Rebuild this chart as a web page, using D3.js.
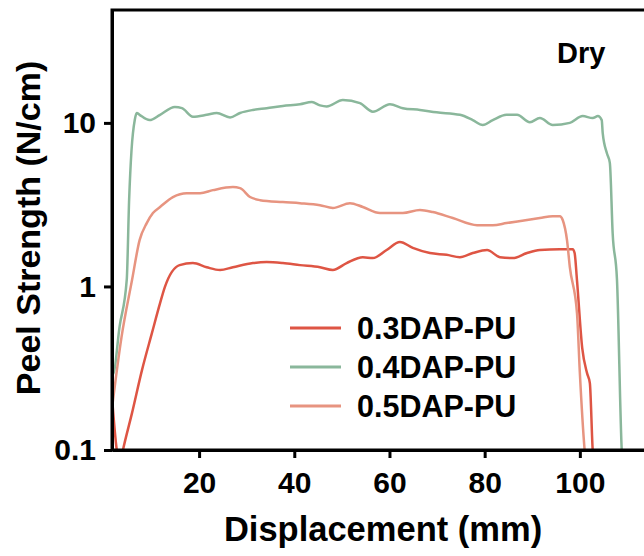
<!DOCTYPE html>
<html>
<head>
<meta charset="utf-8">
<script src="https://cdn.jsdelivr.net/npm/d3@7"></script>
<style>
  body { margin: 0; background: #fff; }
  text { font-family: "Liberation Sans", Arial, sans-serif; font-weight: bold; }
</style>
</head>
<body>
<div id="chart"></div>
<script>
var svgWidth = 644;
var svgHeight = 556;
var margin = { top: 10, left: 112 };
var width = 544;   // right edge of the frame falls outside the picture
var height = 440;

// Series names and colours
var seriesNames = ["0.3DAP-PU", "0.4DAP-PU", "0.5DAP-PU"];
var seriesColors = ["#de5544", "#8ab79b", "#e79480"];

// Displacement (mm) and peel strength (N/cm)
var dispA = [1.7, 2.7, 3.3, 4.0, 5.9, 8.0, 10.1, 11.8, 12.8, 15.9, 18.7, 21.6, 24.4, 27.1, 31.3, 34.2, 37.6, 41.2, 45.4, 48.1, 51.0, 54.4, 56.5, 59.4, 62.2, 64.9, 68.5, 72.0, 74.8, 77.5, 80.5, 83.2, 85.9, 88.9, 91.6, 95.8, 98.5, 98.9, 99.4, 100.5, 101.5, 102.1, 102.7, 103.0];
var peelA = [0.21, 0.1, 0.08, 0.1, 0.168, 0.308, 0.52, 0.79, 0.99, 1.35, 1.39, 1.31, 1.26, 1.31, 1.39, 1.41, 1.39, 1.35, 1.31, 1.26, 1.39, 1.51, 1.49, 1.67, 1.87, 1.72, 1.60, 1.56, 1.51, 1.60, 1.67, 1.51, 1.49, 1.60, 1.67, 1.69, 1.69, 1.60, 1.09, 0.42, 0.296, 0.257, 0.1, 0.08];

var dispB = [1.75, 1.9, 3.3, 4.8, 5.3, 5.8, 6.5, 6.9, 7.5, 9.6, 11.8, 14.9, 16.4, 18.7, 21.6, 23.7, 26.5, 28.6, 31.3, 34.2, 37.6, 41.2, 43.7, 45.4, 46.8, 50.2, 53.8, 56.5, 60.1, 62.8, 66.4, 69.9, 74.8, 77.5, 79.6, 81.7, 84.6, 86.8, 89.5, 91.6, 94.3, 97.9, 100.6, 102.7, 103.8, 104.6, 104.8, 105.7, 106.3, 106.9, 107.8, 108.8, 109.0];
var peelB = [0.34, 0.29, 0.57, 1.1, 3.4, 6.8, 10.5, 11.5, 11.2, 10.4, 11.2, 12.5, 12.3, 10.9, 11.2, 11.5, 10.8, 11.5, 12.0, 12.3, 12.7, 13.0, 13.4, 12.8, 12.6, 13.8, 13.2, 11.7, 13.0, 12.3, 12.0, 11.6, 11.2, 10.4, 9.7, 10.4, 11.2, 11.2, 10.1, 10.7, 9.7, 10.0, 11.0, 10.7, 11.0, 10.4, 8.7, 6.5, 5.7, 2.1, 1.1, 0.1, 0.08];

var dispC = [1.7, 3.7, 5.9, 7.5, 9.0, 10.3, 11.8, 14.5, 17.4, 20.2, 22.9, 27.1, 28.6, 30.7, 32.8, 37.6, 41.2, 45.4, 48.1, 51.7, 54.4, 58.0, 62.8, 66.4, 69.1, 73.3, 78.4, 81.7, 84.6, 88.9, 91.6, 94.3, 95.8, 96.4, 97.3, 97.9, 99.4, 100.0, 101.0, 101.3];
var peelC = [0.18, 0.49, 1.09, 1.92, 2.44, 2.81, 3.06, 3.52, 3.72, 3.72, 3.88, 4.05, 3.99, 3.52, 3.37, 3.28, 3.23, 3.14, 3.02, 3.23, 3.06, 2.81, 2.81, 2.93, 2.85, 2.62, 2.37, 2.37, 2.44, 2.55, 2.62, 2.69, 2.69, 2.55, 1.92, 1.31, 0.687, 0.296, 0.1, 0.08];

var xTicks = [20, 40, 60, 80, 100];
var yTicks = [0.1, 1, 10];
var yTickLabels = ["0.1", "1", "10"];

var seriesData = [
    d3.zip(dispA, peelA),
    d3.zip(dispB, peelB),
    d3.zip(dispC, peelC)
];

var svg = d3.select("#chart")
    .append("svg")
    .attr("width", svgWidth)
    .attr("height", svgHeight);

var chartGroup = svg.append("g")
    .attr("transform", `translate(${margin.left}, ${margin.top})`);

// Scales
var xScale = d3.scaleLinear()
    .domain([1.7, 116])
    .range([0, width]);

var yScale = d3.scaleLog()
    .domain([0.1, 49])
    .range([height, 0]);

chartGroup.append("clipPath")
    .attr("id", "plotClip")
    .append("rect")
    .attr("width", width)
    .attr("height", height);

// Curves
var line = d3.line()
    .x(d => xScale(d[0]))
    .y(d => yScale(d[1]))
    .curve(d3.curveMonotoneX);

chartGroup.append("g")
    .attr("clip-path", "url(#plotClip)")
    .selectAll("path")
    .data(seriesData)
    .enter()
    .append("path")
    .attr("d", line)
    .attr("fill", "none")
    .attr("stroke", (d, i) => seriesColors[i])
    .attr("stroke-width", 2.5)
    .attr("stroke-linejoin", "round");

// Frame
chartGroup.append("rect")
    .attr("width", width)
    .attr("height", height)
    .attr("fill", "none")
    .attr("stroke", "#000")
    .attr("stroke-width", 3);

// Axes
var bottomAxis = d3.axisBottom(xScale)
    .tickValues(xTicks)
    .tickSize(8)
    .tickSizeOuter(0)
    .tickPadding(14);

var leftAxis = d3.axisLeft(yScale)
    .tickValues(yTicks)
    .tickFormat((d, i) => yTickLabels[i])
    .tickSize(8)
    .tickSizeOuter(0)
    .tickPadding(8);

var xAxisG = chartGroup.append("g")
    .attr("transform", `translate(0, ${height})`)
    .call(bottomAxis);

var yAxisG = chartGroup.append("g")
    .call(leftAxis);

[xAxisG, yAxisG].forEach(function (g) {
    g.selectAll("path, line").attr("stroke", "#000").attr("stroke-width", 3);
    g.selectAll("text")
        .attr("fill", "#000")
        .style("font-size", "30px")
        .style("font-family", "'Liberation Sans', Arial, sans-serif")
        .style("font-weight", "bold");
});

// Axis titles
svg.append("text")
    .attr("transform", "rotate(-90)")
    .attr("x", -228)
    .attr("y", 40)
    .style("text-anchor", "middle")
    .style("font-size", "34px")
    .text("Peel Strength (N/cm)");

svg.append("text")
    .attr("x", 383)
    .attr("y", 541)
    .style("text-anchor", "middle")
    .style("font-size", "34.5px")
    .text("Displacement (mm)");

svg.append("text")
    .attr("x", 557)
    .attr("y", 63)
    .style("font-size", "29px")
    .text("Dry");

// Legend
var legendY = [328, 367, 406];
var legend = svg.selectAll(".legend")
    .data(seriesNames)
    .enter()
    .append("g")
    .attr("class", "legend")
    .attr("transform", (d, i) => `translate(290, ${legendY[i]})`);

legend.append("line")
    .attr("x1", 0)
    .attr("x2", 51)
    .attr("stroke", (d, i) => seriesColors[i])
    .attr("stroke-width", 3);

legend.append("text")
    .attr("x", 67)
    .attr("y", 11)
    .style("font-size", "30.5px")
    .text(d => d);
</script>
</body>
</html>
